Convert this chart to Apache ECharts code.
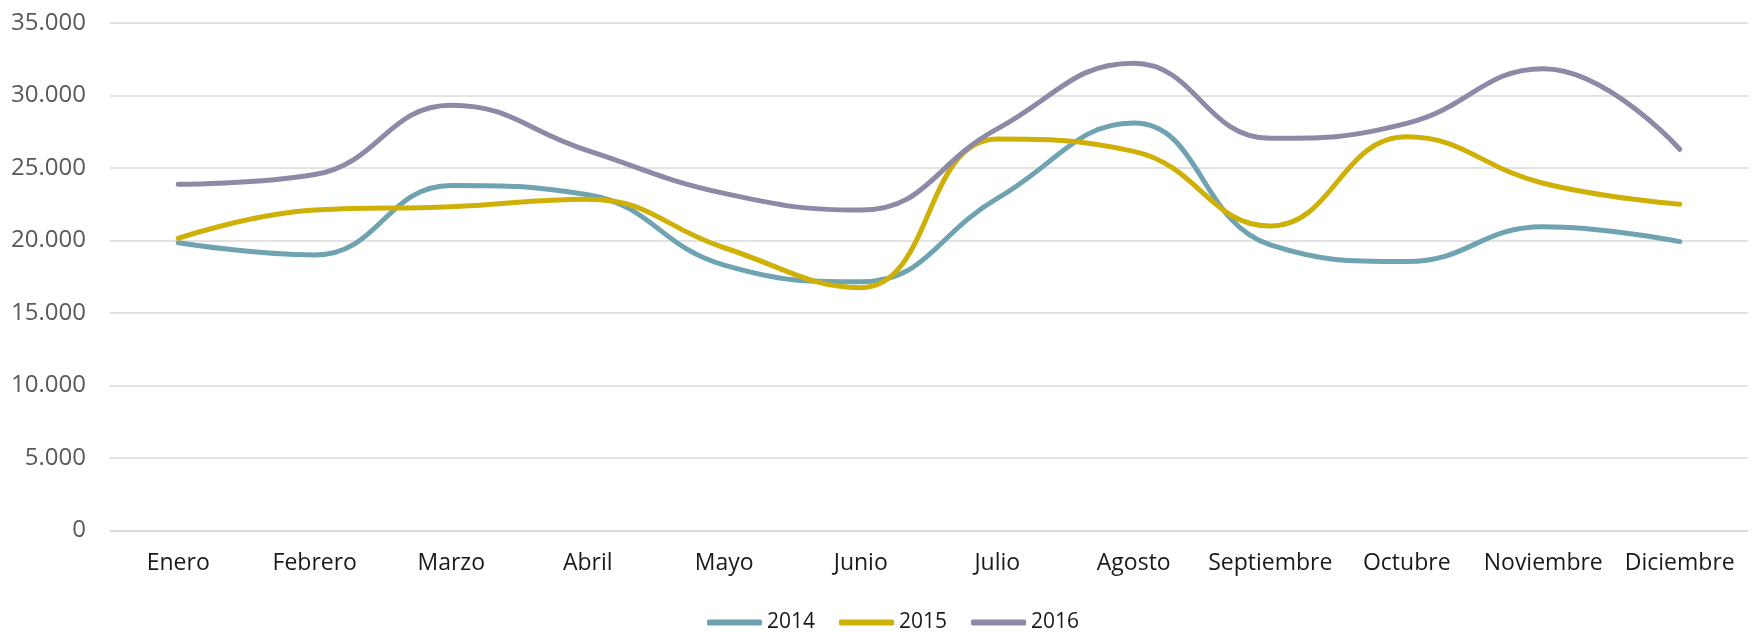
<!DOCTYPE html>
<html>
<head>
<meta charset="utf-8">
<script src="https://cdn.jsdelivr.net/npm/echarts@6/dist/echarts.min.js"></script>
<style>
html,body{margin:0;padding:0;background:#fff;}
#chart{width:1754px;height:632px;}
</style>
</head>
<body>
<div id="chart"></div>
<script>
const categories = ['Enero','Febrero','Marzo','Abril','Mayo','Junio','Julio','Agosto','Septiembre','Octubre','Noviembre','Diciembre'];
const seriesNames = ['2014','2015','2016'];
const values2014 = [19850, 19000, 23800, 23150, 18300, 17150, 22900, 28100, 19700, 18550, 20950, 19920];
const values2015 = [20150, 22100, 22330, 22850, 19500, 16750, 27000, 26150, 21000, 27150, 23950, 22500];
const values2016 = [23880, 24550, 29330, 26200, 23250, 22100, 27700, 32220, 27050, 28080, 31850, 26290];
const yTicks = {min: 0, max: 35000, interval: 5000};
const colors = ['#6fa3b1', '#cfb007', '#8e89a7'];

const FONT = '"Open Sans", "Liberation Sans", sans-serif';
const chart = echarts.init(document.getElementById('chart'), null, {renderer: 'canvas'});
const fmt = v => String(v).replace(/\B(?=(\d{3})+(?!\d))/g, '.');
const allValues = [values2014, values2015, values2016];

chart.setOption({
  animation: false,
  color: colors,
  textStyle: {fontFamily: FONT},
  grid: {left: 110, right: 6, top: 23, bottom: 101.5, containLabel: false},
  legend: {
    left: 702, top: 607,
    itemWidth: 55, itemHeight: 6, itemGap: 24,
    icon: 'roundRect',
    textStyle: {fontFamily: FONT, fontSize: 21, color: '#1a1a1a'},
    data: seriesNames
  },
  xAxis: {
    type: 'category',
    data: categories,
    boundaryGap: true,
    axisLine: {show: true, lineStyle: {color: '#d9d9d9', width: 1.5}},
    axisTick: {show: false},
    axisLabel: {fontFamily: FONT, fontSize: 23, color: '#1a1a1a', margin: 21, interval: 0}
  },
  yAxis: {
    type: 'value',
    min: yTicks.min, max: yTicks.max, interval: yTicks.interval,
    axisLine: {show: false},
    axisTick: {show: false},
    splitLine: {lineStyle: {color: '#d9d9d9', width: 1.5}},
    axisLabel: {fontFamily: FONT, fontSize: 24, color: '#595959', margin: 24, formatter: fmt}
  },
  series: seriesNames.map((name, i) => ({
    name: name,
    type: 'line',
    data: allValues[i],
    smooth: 0.45,
    symbol: 'none',
    lineStyle: {width: 5, color: colors[i], cap: 'round', join: 'round'},
    itemStyle: {color: colors[i]}
  }))
});
</script>
</body>
</html>
